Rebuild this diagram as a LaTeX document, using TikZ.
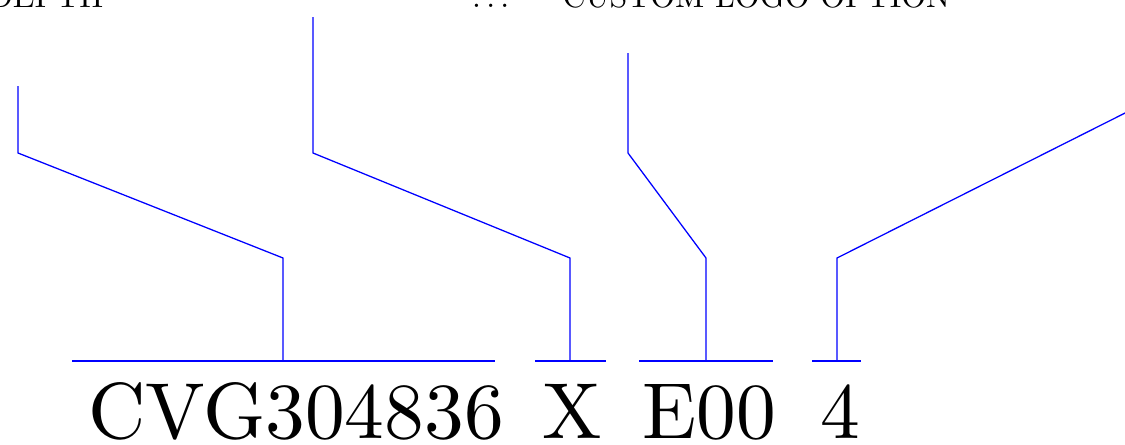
\documentclass[tikz,border=0pt]{standalone}
\usetikzlibrary{positioning}

\begin{document}
\begin{tikzpicture}[x=0.3135pt, y=-0.3135pt,
  part/.style={inner sep=0pt, anchor=base, scale=2.49},
  lbl/.style={inner sep=0pt, font=\normalsize},
  lead/.style={blue, line width=0.4pt}]
\clip (0,0) rectangle (1125,445);
% code parts
\node[part] (cvg) at (296,438) {CVG304836};
\node[part] (x) at (572.5,438) {X};
\node[part] (e) at (709,438) {E00};
\node[part] (four) at (840,438) {4};
% labels
\node[lbl, anchor=base east] (depth) at (104,7) {DEPTH};
\node[lbl, anchor=base west] (more) at (471.5,7) {$\ldots$};
\node[lbl, anchor=base west] (logo) at (562,7) {CUSTOM LOGO OPTION};
% underlines
\coordinate (u1) at (283,361);
\coordinate (u2) at (570,361);
\coordinate (u3) at (706,361);
\coordinate (u4) at (837,361);
\draw[lead] (72,361) -- (495,361);
\draw[lead] (535,361) -- (606,361);
\draw[lead] (639,361) -- (773,361);
\draw[lead] (812,361) -- (861,361);
% leaders
\coordinate (t1) at (18,86);
\coordinate (t2) at (313,17);
\coordinate (t3) at (628,53);
\coordinate (t4) at (1141,105);
\draw[lead] (u1) -- (u1 |- 0,258) -- (t1 |- 0,153) -- (t1);
\draw[lead] (u2) -- (u2 |- 0,258) -- (t2 |- 0,153) -- (t2);
\draw[lead] (u3) -- (u3 |- 0,258) -- (t3 |- 0,153) -- (t3);
\draw[lead] (u4) -- (u4 |- 0,258) -- (t4);
\end{tikzpicture}
\end{document}
